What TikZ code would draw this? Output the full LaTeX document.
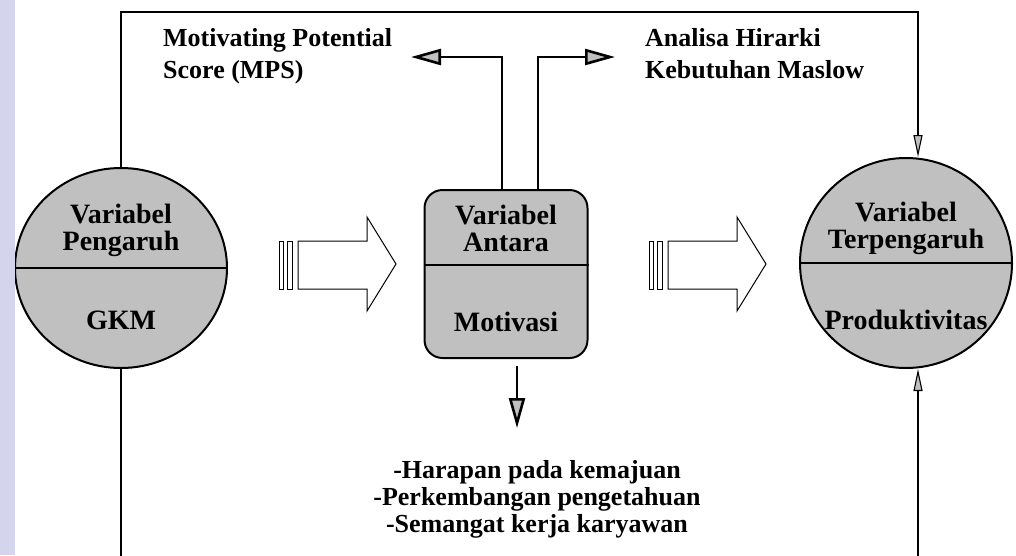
\documentclass[tikz,border=0pt]{standalone}
\usepackage{fontspec}
\setmainfont{Liberation Serif}
\usetikzlibrary{shapes,arrows.meta,positioning}

\definecolor{strip}{RGB}{212,213,236}
\definecolor{dotgray}{RGB}{192,192,192}

\tikzset{
  varblob/.style={ellipse, draw, line width=2pt, fill=dotgray, inner sep=0pt},
  varbox/.style={rectangle, rounded corners=18pt, draw, line width=2pt, fill=dotgray,
    minimum width=163pt, minimum height=168pt, inner sep=0pt},
  intext/.style={font=\bfseries\fontsize{28}{27}\selectfont, align=center, inner sep=0pt},
  lbl/.style={font=\bfseries\fontsize{26}{32}\selectfont, align=left, inner sep=0pt},
  thinline/.style={line width=1.1pt, -{Triangle[length=22pt,width=9pt,fill=dotgray]}},
  fatline/.style={line width=2.6pt, -{Triangle[length=30pt,width=16pt,fill=dotgray]}},
}

\begin{document}
\begin{tikzpicture}[x=1pt,y=-1pt]
  \useasboundingbox (0,0) rectangle (1016,555);

  \newcommand\fatarrow[1]{%
    \draw[line width=1pt, fill=white] (#1,241) -- (#1+69,241) -- (#1+69,217) -- (#1+98,264)
      -- (#1+69,311) -- (#1+69,289) -- (#1,289) -- cycle;
    \draw[line width=1pt] (#1-19,241) rectangle (#1-15,289);
    \draw[line width=1pt] (#1-11,241) rectangle (#1-6,289);
  }

  %% the three variables
  \node[varblob, minimum width=212pt, minimum height=200pt] (pengaruh) at (121,268) {};
  \node[varbox] (antara) at (506,274) {};
  \node[varblob, minimum width=212pt, minimum height=210pt] (terpengaruh) at (906,263) {};

  \draw[line width=2pt] (pengaruh.west) -- (pengaruh.east);
  \draw[line width=2pt] ([yshift=9pt]antara.west) -- ([yshift=9pt]antara.east);
  \draw[line width=2pt] (terpengaruh.west) -- (terpengaruh.east);

  \node[intext] (pengaruhA) at (121,230) {Variabel\\Pengaruh};
  \node[intext] (pengaruhB) at (121,320) {GKM};
  \node[intext] (antaraA) at (506,228) {Variabel\\Antara};
  \node[intext] (antaraB) at (506,322) {Motivasi};
  \node[intext] (terpengaruhA) at (906,228) {Variabel\\Terpengaruh};
  \node[intext] (terpengaruhB) at (906,320) {Produktivitas};

  %% block arrows
  \fatarrow{298}
  \fatarrow{668}

  %% side labels
  \node[lbl, anchor=north west] (mps) at (163,28) {Motivating Potential\\Score (MPS)};
  \node[lbl, anchor=north west] (maslow) at (645,28) {Analisa Hirarki\\Kebutuhan Maslow};
  \node[font=\bfseries\fontsize{26}{27}\selectfont, align=center, inner sep=0pt]
    (faktor) at (537,499) {-Harapan pada kemajuan\\-Perkembangan pengetahuan\\-Semangat kerja karyawan};

  \coordinate (mpsEnd) at (411,57);
  \coordinate (maslowEnd) at (615,57);
  \draw[fatline] ([xshift=-4pt]antara.north) |- (mpsEnd);
  \draw[fatline] ([xshift=32pt]antara.north) |- (maslowEnd);
  \draw[fatline] ([xshift=11pt,yshift=-7pt]antara.south) -- ++(0,62);

  %% feedback lines
  \coordinate (topR) at (918,12);
  \coordinate (botL) at (121,590);
  \coordinate (botR) at (918,590);
  \draw[thinline] (pengaruh.north) |- (topR) -- (topR |- terpengaruh.north);
  \draw[thinline] (pengaruh.south) -- (botL) -- (botR) -- (botR |- terpengaruh.south);

  \fill[strip] (0,0) rectangle (15,555);
\end{tikzpicture}
\end{document}
